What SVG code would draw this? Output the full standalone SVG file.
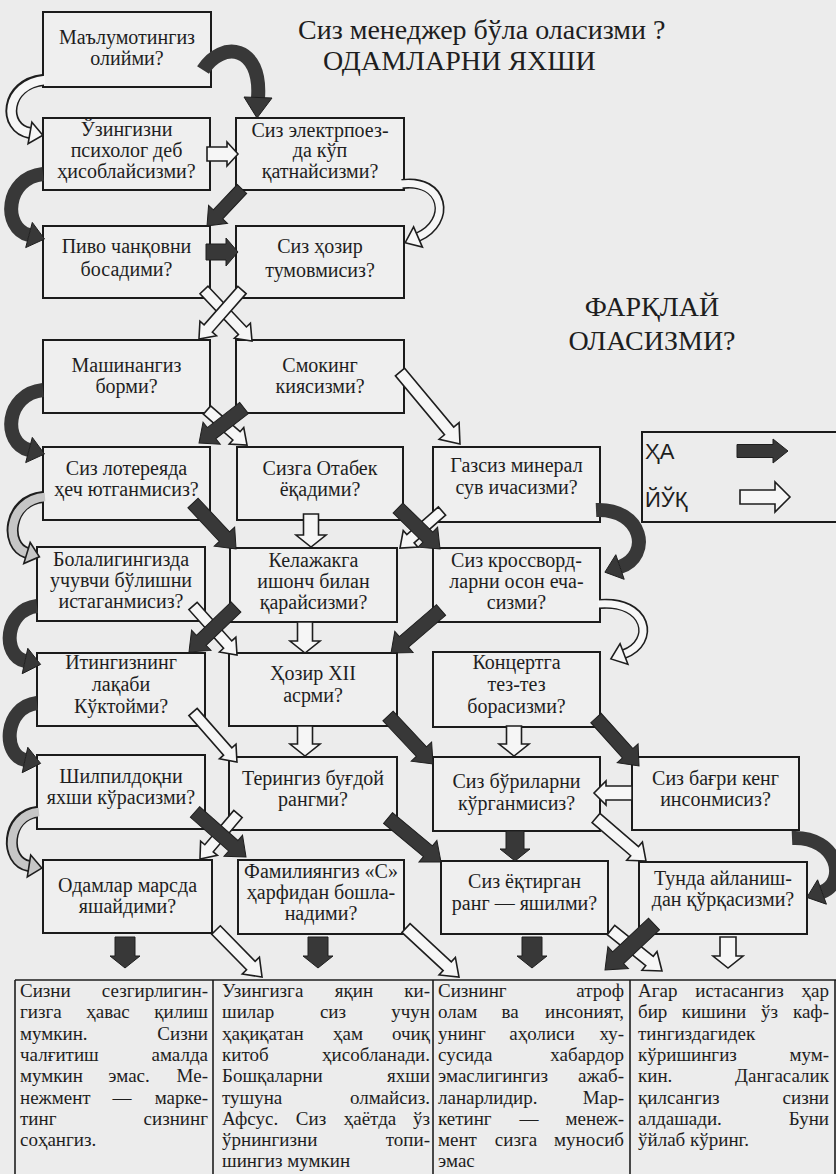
<svg xmlns="http://www.w3.org/2000/svg" width="836" height="1174" viewBox="0 0 836 1174">
<style>
.bg{fill:#ececec}
.bx{fill:#efefef;stroke:#1b1b1b;stroke-width:2}
.t{font-family:"Liberation Serif","Times New Roman",serif;font-size:20px;fill:#1e1e1e;text-anchor:middle}
.h{font-family:"Liberation Serif","Times New Roman",serif;font-size:28px;fill:#1e1e1e}
.lg{font-family:"Liberation Sans",Arial,sans-serif;font-size:22px;fill:#1e1e1e}
.p{font-family:"Liberation Serif","Times New Roman",serif;font-size:19px;fill:#1e1e1e}
.e{text-anchor:end}
.m{text-anchor:middle}
.b{fill:#383838;stroke:#1e1e1e;stroke-width:1}
.w{fill:#f6f6f6;stroke:#1e1e1e;stroke-width:1.6}
.g{fill:#c6c6c6;stroke:#1e1e1e;stroke-width:1.6}
.cb{fill:none;stroke:#383838;stroke-width:14}
.co{fill:none;stroke:#1e1e1e;stroke-width:12}
.ci{fill:none;stroke:#f6f6f6;stroke-width:8.5}
.cig{fill:none;stroke:#c6c6c6;stroke-width:8.5}
.ct{fill:none;stroke:#1e1e1e;stroke-width:10}
.cti{fill:none;stroke:#f6f6f6;stroke-width:7}
.tl{fill:none;stroke:#1e1e1e;stroke-width:1.6}
</style>
<rect class="bg" x="0" y="0" width="836" height="1174"/>

<g id="title">
<text class="h" x="298" y="39">Сиз менеджер бўла оласизми ?</text>
<text class="h" x="323" y="70">ОДАМЛАРНИ ЯХШИ</text>
<text class="h m" x="652" y="316">ФАРҚЛАЙ</text>
<text class="h m" x="652" y="350">ОЛАСИЗМИ?</text>
</g>

<g id="legend">
<rect x="642" y="432" width="210" height="90" fill="none" stroke="#1b1b1b" stroke-width="2"/>
<text class="lg" x="645" y="459">ҲА</text>
<text class="lg" x="645" y="507">ЙЎҚ</text>
<polygon class="b" transform="translate(737 451)" points="0,-6.5 36,-6.5 36,-12 51,0 36,12 36,6.5 0,6.5"/>
<polygon class="w" transform="translate(740 497)" points="0,-7 35,-7 35,-15 50,0 35,15 35,7 0,7"/>
</g>

<g id="n-a1"><rect class="bx" x="43" y="12" width="168" height="75"/><text class="t" x="127" y="44">Маълумотингиз</text><text class="t" x="127" y="65">олийми?</text></g>
<g id="n-a2"><rect class="bx" x="43" y="118" width="167" height="72"/><text class="t" x="126.5" y="136">Ўзингизни</text><text class="t" x="126.5" y="157">психолог деб</text><text class="t" x="126.5" y="178">ҳисоблайсизми?</text></g>
<g id="n-a3"><rect class="bx" x="43" y="226" width="167" height="72"/><text class="t" x="126.5" y="253">Пиво чанқовни</text><text class="t" x="126.5" y="276">босадими?</text></g>
<g id="n-a4"><rect class="bx" x="43" y="340" width="167" height="73"/><text class="t" x="126.5" y="372">Машинангиз</text><text class="t" x="126.5" y="393">борми?</text></g>
<g id="n-a5"><rect class="bx" x="43" y="447" width="167" height="73"/><text class="t" x="126.5" y="475">Сиз лотереяда</text><text class="t" x="126.5" y="496">ҳеч ютганмисиз?</text></g>
<g id="n-a6"><rect class="bx" x="37" y="547" width="168" height="74"/><text class="t" x="121" y="566">Болалигингизда</text><text class="t" x="121" y="587">учувчи бўлишни</text><text class="t" x="121" y="608">истаганмисиз?</text></g>
<g id="n-a7"><rect class="bx" x="37" y="653" width="168" height="73"/><text class="t" x="121" y="669">Итингизнинг</text><text class="t" x="121" y="691">лақаби</text><text class="t" x="121" y="713">Кўктойми?</text></g>
<g id="n-a8"><rect class="bx" x="37" y="755" width="168" height="74"/><text class="t" x="121" y="783">Шилпилдоқни</text><text class="t" x="121" y="804">яхши кўрасизми?</text></g>
<g id="n-a9"><rect class="bx" x="43" y="860" width="169" height="73"/><text class="t" x="127.5" y="892">Одамлар марсда</text><text class="t" x="127.5" y="913">яшайдими?</text></g>

<g id="n-b1"><rect class="bx" x="236" y="118" width="168" height="72"/><text class="t" x="320" y="137">Сиз электрпоез-</text><text class="t" x="320" y="157">да кўп</text><text class="t" x="320" y="178">қатнайсизми?</text></g>
<g id="n-b2"><rect class="bx" x="236" y="226" width="168" height="72"/><text class="t" x="320" y="253">Сиз ҳозир</text><text class="t" x="320" y="277">тумовмисиз?</text></g>
<g id="n-b3"><rect class="bx" x="236" y="340" width="168" height="73"/><text class="t" x="320" y="372">Смокинг</text><text class="t" x="320" y="393">киясизми?</text></g>
<g id="n-b4"><rect class="bx" x="237" y="447" width="166" height="73"/><text class="t" x="320" y="475">Сизга Отабек</text><text class="t" x="320" y="496">ёқадими?</text></g>
<g id="n-b5"><rect class="bx" x="230" y="548" width="167" height="74"/><text class="t" x="313.5" y="567">Келажакга</text><text class="t" x="313.5" y="588">ишонч билан</text><text class="t" x="313.5" y="609">қарайсизми?</text></g>
<g id="n-b6"><rect class="bx" x="229" y="653" width="168" height="73"/><text class="t" x="313" y="680">Ҳозир XII</text><text class="t" x="313" y="702">асрми?</text></g>
<g id="n-b7"><rect class="bx" x="229" y="757" width="168" height="73"/><text class="t" x="313" y="785">Терингиз буғдой</text><text class="t" x="313" y="806">рангми?</text></g>
<g id="n-b8"><rect class="bx" x="238" y="860" width="166" height="74"/><text class="t" x="321" y="878">Фамилиянгиз «С»</text><text class="t" x="321" y="899">ҳарфидан бошла-</text><text class="t" x="321" y="920">надими?</text></g>

<g id="n-c1"><rect class="bx" x="433" y="447" width="167" height="75"/><text class="t" x="516.5" y="472">Газсиз минерал</text><text class="t" x="516.5" y="494">сув ичасизми?</text></g>
<g id="n-c2"><rect class="bx" x="433" y="548" width="167" height="74"/><text class="t" x="516.5" y="567">Сиз кроссворд-</text><text class="t" x="516.5" y="588">ларни осон еча-</text><text class="t" x="516.5" y="609">сизми?</text></g>
<g id="n-c3"><rect class="bx" x="433" y="652" width="167" height="75"/><text class="t" x="516.5" y="669">Концертга</text><text class="t" x="516.5" y="691">тез-тез</text><text class="t" x="516.5" y="713">борасизми?</text></g>
<g id="n-c4"><rect class="bx" x="433" y="757" width="167" height="74"/><text class="t" x="516.5" y="788">Сиз бўриларни</text><text class="t" x="516.5" y="810">кўрганмисиз?</text></g>
<g id="n-c5"><rect class="bx" x="441" y="861" width="167" height="73"/><text class="t" x="524.5" y="888">Сиз ёқтирган</text><text class="t" x="524.5" y="910">ранг — яшилми?</text></g>

<g id="n-d1"><rect class="bx" x="632" y="757" width="167" height="73"/><text class="t" x="715.5" y="785">Сиз бағри кенг</text><text class="t" x="715.5" y="806">инсонмисиз?</text></g>
<g id="n-d2"><rect class="bx" x="639" y="862" width="168" height="72"/><text class="t" x="723" y="885">Тунда айланиш-</text><text class="t" x="723" y="906">дан қўрқасизми?</text></g>

<g id="connectors">
<path class="cb" d="M203 70 C222 40 262 45 258 98"/>
<polygon class="b" points="244,97 272,98 257,118"/>
<path class="co" d="M43 80 C5 84 2 128 30 133"/>
<path class="ci" d="M45 80 C5 84 2 128 30 133"/>
<polygon class="w" points="31.9,122.2 42.8,135.3 28.1,143.8"/>
<polygon class="w" transform="translate(207 154)" points="0,-7 20,-7 20,-12 31,0 20,12 20,7 0,7"/>
<path class="cb" d="M43 174 C5 178 2 228 29 235"/>
<polygon class="b" points="32.3,222.4 44.5,239 25.7,247.6"/>
<polygon class="b" transform="translate(242 189) rotate(133.4)" points="0,-6.5 34.9,-6.5 34.9,-13 50.9,0 34.9,13 34.9,6.5 0,6.5"/>
<path class="ct" d="M402 184 C445 178 452 222 418 237"/>
<path class="cti" d="M400 184 C445 178 452 222 418 237"/>
<polygon class="w" points="413.6,226.9 405.2,242.7 422.4,247.1"/>
<polygon class="b" transform="translate(206 252)" points="0,-8 20,-8 20,-14 32,0 20,14 20,8 0,8"/>
<polygon class="w" transform="translate(204 290) rotate(46.7)" points="0,-5.5 56,-5.5 56,-11 70,0 56,11 56,5.5 0,5.5"/>
<polygon class="w" transform="translate(242 290) rotate(131.3)" points="0,-5.5 51.2,-5.5 51.2,-11 65.2,0 51.2,11 51.2,5.5 0,5.5"/>
<path class="cb" d="M43 390 C5 394 2 443 29 450"/>
<polygon class="b" points="32.3,437.4 44.5,454 25.7,462.6"/>
<polygon class="w" transform="translate(207 410) rotate(41.2)" points="0,-5.5 39.2,-5.5 39.2,-11 53.2,0 39.2,11 39.2,5.5 0,5.5"/>
<polygon class="b" transform="translate(244 408) rotate(142.1)" points="0,-7 41,-7 41,-14 57,0 41,14 41,7 0,7"/>
<polygon class="w" transform="translate(400 372) rotate(50.2)" points="0,-6 76.7,-6 76.7,-13 93.7,0 76.7,13 76.7,6 0,6"/>
<path class="co" d="M43 497 C8 500 4 546 27 553"/>
<path class="cig" d="M45 497 C8 500 4 546 27 553"/>
<polygon class="g" points="30.2,542.5 39.4,556.8 23.8,563.5"/>
<polygon class="b" transform="translate(193 503) rotate(46.9)" points="0,-7 46,-7 46,-14 63,0 46,14 46,7 0,7"/>
<polygon class="w" transform="translate(311 514) rotate(90)" points="0,-7.5 21,-7.5 21,-15 33,0 21,15 21,7.5 0,7.5"/>
<polygon class="w" transform="translate(442 511) rotate(138.6)" points="0,-5.5 42,-5.5 42,-11 56,0 42,11 42,5.5 0,5.5"/>
<polygon class="b" transform="translate(398 508) rotate(44.3)" points="0,-7 41.7,-7 41.7,-14 58.7,0 41.7,14 41.7,7 0,7"/>
<path class="cb" d="M596 510 C643 508 652 556 620 567"/>
<polygon class="b" points="615.8,554.7 604.9,572.2 624.2,579.3"/>
<path class="ct" d="M600 604 C648 600 656 642 624 654"/>
<path class="cti" d="M598 604 C648 600 656 642 624 654"/>
<polygon class="w" points="620.1,643.7 610.9,658.9 627.9,664.3"/>
<path class="cb" d="M37 606 C4 610 2 656 25 661"/>
<polygon class="b" points="27.8,648.3 40.6,664.4 22.2,673.7"/>
<polygon class="w" transform="translate(193 606) rotate(48.1)" points="0,-5.5 51.9,-5.5 51.9,-11 65.9,0 51.9,11 51.9,5.5 0,5.5"/>
<polygon class="b" transform="translate(236 607) rotate(136.2)" points="0,-7 48.1,-7 48.1,-14 65.1,0 48.1,14 48.1,7 0,7"/>
<polygon class="w" transform="translate(305 622) rotate(90)" points="0,-7.5 19,-7.5 19,-15 31,0 19,15 19,7.5 0,7.5"/>
<polygon class="b" transform="translate(441 610) rotate(139.3)" points="0,-7 48.9,-7 48.9,-14 65.9,0 48.9,14 48.9,7 0,7"/>
<path class="cb" d="M37 703 C4 707 2 755 25 760"/>
<polygon class="b" points="27.8,747.3 40.6,763.4 22.2,772.7"/>
<polygon class="w" transform="translate(193 712) rotate(48.7)" points="0,-5.5 52.6,-5.5 52.6,-11 66.6,0 52.6,11 52.6,5.5 0,5.5"/>
<polygon class="w" transform="translate(305 726) rotate(90)" points="0,-7.5 18,-7.5 18,-15 30,0 18,15 18,7.5 0,7.5"/>
<polygon class="b" transform="translate(388 716) rotate(46.8)" points="0,-7 48.8,-7 48.8,-14 65.8,0 48.8,14 48.8,7 0,7"/>
<polygon class="w" transform="translate(514 726) rotate(90)" points="0,-7.5 18,-7.5 18,-15 30,0 18,15 18,7.5 0,7.5"/>
<polygon class="b" transform="translate(596 718) rotate(48.1)" points="0,-7 47.4,-7 47.4,-14 64.4,0 47.4,14 47.4,7 0,7"/>
<polygon class="w" transform="translate(632 793) rotate(180)" points="0,-7 26,-7 26,-12 38,0 26,12 26,7 0,7"/>
<polygon class="w" transform="translate(596 818) rotate(40.7)" points="0,-6 50.9,-6 50.9,-12 65.9,0 50.9,12 50.9,6 0,6"/>
<path class="cb" d="M792 838 C838 836 848 882 822 892"/>
<polygon class="b" points="817.6,879.8 806.9,897.4 826.4,904.2"/>
<path class="co" d="M37 812 C6 815 4 862 29 866"/>
<path class="cig" d="M39 812 C6 815 4 862 29 866"/>
<polygon class="g" points="30.7,855.1 41.8,868.1 27.3,876.9"/>
<polygon class="w" transform="translate(238 814) rotate(130.2)" points="0,-5.5 44.9,-5.5 44.9,-11 58.9,0 44.9,11 44.9,5.5 0,5.5"/>
<polygon class="b" transform="translate(195 812) rotate(41.4)" points="0,-7 51,-7 51,-14 68,0 51,14 51,7 0,7"/>
<polygon class="b" transform="translate(388 818) rotate(39.7)" points="0,-7 51.9,-7 51.9,-14 68.9,0 51.9,14 51.9,7 0,7"/>
<polygon class="b" transform="translate(515 831) rotate(90)" points="0,-9 18,-9 18,-15 30,0 18,15 18,9 0,9"/>
<polygon class="b" transform="translate(125 937) rotate(90)" points="0,-10 19,-10 19,-15 31,0 19,15 19,10 0,10"/>
<polygon class="w" transform="translate(216 930) rotate(45.6)" points="0,-6 49.8,-6 49.8,-12 65.8,0 49.8,12 49.8,6 0,6"/>
<polygon class="b" transform="translate(318 937) rotate(90)" points="0,-10 19,-10 19,-15 31,0 19,15 19,10 0,10"/>
<polygon class="w" transform="translate(406 928) rotate(42.8)" points="0,-6 56.2,-6 56.2,-12 72.2,0 56.2,12 56.2,6 0,6"/>
<polygon class="b" transform="translate(532 937) rotate(90)" points="0,-10 19,-10 19,-15 31,0 19,15 19,10 0,10"/>
<polygon class="w" transform="translate(611 930) rotate(38.8)" points="0,-6 49.4,-6 49.4,-12 65.4,0 49.4,12 49.4,6 0,6"/>
<polygon class="b" transform="translate(654 924) rotate(136.8)" points="0,-8 49.2,-8 49.2,-15 67.2,0 49.2,15 49.2,8 0,8"/>
<polygon class="w" transform="translate(728 937) rotate(90)" points="0,-8 19,-8 19,-15 31,0 19,15 19,8 0,8"/>
</g>

<g id="results">
<path class="tl" d="M15 980 H836 M15 980 V1174 M213 980 V1174 M433 980 V1174 M630 980 V1174 M835 980 V1174"/>
<g id="r1">
<text class="p" x="20" y="997">Сизни</text><text class="p e" x="208" y="997">сезгирлигин-</text>
<text class="p" x="20" y="1018">гизга</text><text class="p m" x="108" y="1018">ҳавас</text><text class="p e" x="208" y="1018">қилиш</text>
<text class="p" x="20" y="1040">мумкин.</text><text class="p e" x="208" y="1040">Сизни</text>
<text class="p" x="20" y="1061">чалғитиш</text><text class="p e" x="208" y="1061">амалда</text>
<text class="p" x="20" y="1082">мумкин</text><text class="p m" x="129" y="1082">эмас.</text><text class="p e" x="208" y="1082">Ме-</text>
<text class="p" x="20" y="1104">нежмент</text><text class="p m" x="122" y="1104">—</text><text class="p e" x="208" y="1104">марке-</text>
<text class="p" x="20" y="1125">тинг</text><text class="p e" x="208" y="1125">сизнинг</text>
<text class="p" x="20" y="1146">соҳангиз.</text>
</g>
<g id="r2">
<text class="p" x="222" y="997">Узингизга</text><text class="p m" x="354" y="997">яқин</text><text class="p e" x="430" y="997">ки-</text>
<text class="p" x="222" y="1018">шилар</text><text class="p m" x="333" y="1018">сиз</text><text class="p e" x="430" y="1018">учун</text>
<text class="p" x="222" y="1040">ҳақиқатан</text><text class="p m" x="348" y="1040">ҳам</text><text class="p e" x="430" y="1040">очиқ</text>
<text class="p" x="222" y="1061">китоб</text><text class="p e" x="430" y="1061">ҳисобланади.</text>
<text class="p" x="222" y="1082">Бошқаларни</text><text class="p e" x="430" y="1082">яхши</text>
<text class="p" x="222" y="1104">тушуна</text><text class="p e" x="430" y="1104">олмайсиз.</text>
<text class="p" x="222" y="1125">Афсус.</text><text class="p m" x="311" y="1125">Сиз</text><text class="p m" x="370" y="1125">ҳаётда</text><text class="p e" x="430" y="1125">ўз</text>
<text class="p" x="222" y="1146">ўрнингизни</text><text class="p e" x="430" y="1146">топи-</text>
<text class="p" x="222" y="1167">шингиз мумкин</text>
</g>
<g id="r3">
<text class="p" x="438" y="997">Сизнинг</text><text class="p e" x="624" y="997">атроф</text>
<text class="p" x="438" y="1018">олам</text><text class="p m" x="510" y="1018">ва</text><text class="p e" x="624" y="1018">инсоният,</text>
<text class="p" x="438" y="1040">унинг</text><text class="p m" x="542" y="1040">аҳолиси</text><text class="p e" x="624" y="1040">ху-</text>
<text class="p" x="438" y="1061">сусида</text><text class="p e" x="624" y="1061">хабардор</text>
<text class="p" x="438" y="1082">эмаслигингиз</text><text class="p e" x="624" y="1082">ажаб-</text>
<text class="p" x="438" y="1104">ланарлидир.</text><text class="p e" x="624" y="1104">Мар-</text>
<text class="p" x="438" y="1125">кетинг</text><text class="p m" x="529" y="1125">—</text><text class="p e" x="624" y="1125">менеж-</text>
<text class="p" x="438" y="1146">мент</text><text class="p m" x="516" y="1146">сизга</text><text class="p e" x="624" y="1146">муносиб</text>
<text class="p" x="438" y="1167">эмас</text>
</g>
<g id="r4">
<text class="p" x="638" y="997">Агар</text><text class="p m" x="739.5" y="997">истасангиз</text><text class="p e" x="829" y="997">ҳар</text>
<text class="p" x="638" y="1018">бир</text><text class="p m" x="714" y="1018">кишини</text><text class="p m" x="769.5" y="1018">ўз</text><text class="p e" x="829" y="1018">каф-</text>
<text class="p" x="638" y="1040">тингиздагидек</text>
<text class="p" x="638" y="1061">кўришингиз</text><text class="p e" x="829" y="1061">мум-</text>
<text class="p" x="638" y="1082">кин.</text><text class="p e" x="829" y="1082">Дангасалик</text>
<text class="p" x="638" y="1104">қилсангиз</text><text class="p e" x="829" y="1104">сизни</text>
<text class="p" x="638" y="1125">алдашади.</text><text class="p e" x="829" y="1125">Буни</text>
<text class="p" x="638" y="1146">ўйлаб кўринг.</text>
</g>
</g>
</svg>
